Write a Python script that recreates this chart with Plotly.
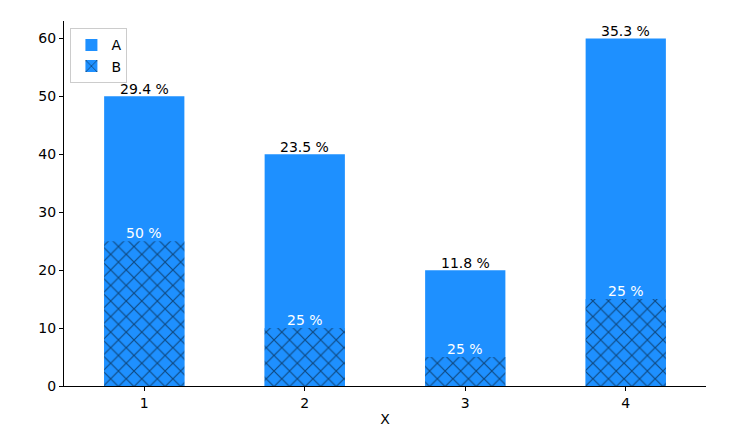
import plotly.graph_objects as go

categories = [1, 2, 3, 4]
a_values = [50, 40, 20, 60]
b_values = [25, 10, 5, 15]

total_a = sum(a_values)
a_labels = [f"{v / total_a * 100:.1f} %" for v in a_values]
b_labels = [f"{round(b / a * 100)} %" for a, b in zip(a_values, b_values)]

blue = "#1E90FF"
font = "DejaVu Sans, sans-serif"

fig = go.Figure()
fig.add_trace(go.Bar(x=categories, y=a_values, width=0.5, name="A",
                     marker=dict(color=blue, line=dict(width=0))))
fig.add_trace(go.Bar(x=categories, y=b_values, width=0.5, name="B",
                     marker=dict(color=blue, line=dict(width=0),
                                 pattern=dict(shape="x", fgcolor="black", bgcolor=blue,
                                              size=11, solidity=0.2, fillmode="overlay"))))

for x, y, t in zip(categories, a_values, a_labels):
    fig.add_annotation(x=x, y=y, text=t, showarrow=False, yanchor="bottom", yshift=-3,
                       font=dict(color="black", size=14, family=font))
for x, y, t in zip(categories, b_values, b_labels):
    fig.add_annotation(x=x, y=y, text=t, showarrow=False, yanchor="bottom", yshift=-2,
                       font=dict(color="white", size=14, family=font))

fig.update_layout(
    width=740, height=435,
    margin=dict(l=64, r=34, t=21, b=49),
    barmode="overlay",
    plot_bgcolor="white", paper_bgcolor="white",
    font=dict(family=font, size=14, color="black"),
    showlegend=True,
    legend=dict(x=0.01, y=0.98, xanchor="left", yanchor="top",
                bordercolor="#cccccc", borderwidth=1, bgcolor="rgba(255,255,255,0.8)",
                font=dict(size=14, family=font), traceorder="normal"),
    xaxis=dict(range=[0.5, 4.5], tickvals=categories, ticktext=[str(c) for c in categories],
               showline=True, linecolor="black", linewidth=1, ticks="outside",
               ticklen=4, tickcolor="black", showgrid=False, zeroline=False,
               automargin=False,
               title=dict(text="X", font=dict(size=14, family=font), standoff=4)),
    yaxis=dict(range=[0, 63], tickvals=[0, 10, 20, 30, 40, 50, 60],
               showline=True, linecolor="black", linewidth=1, ticks="outside",
               ticklen=4, tickcolor="black", showgrid=False, zeroline=False,
               automargin=False),
)

fig.write_html("out.html")
